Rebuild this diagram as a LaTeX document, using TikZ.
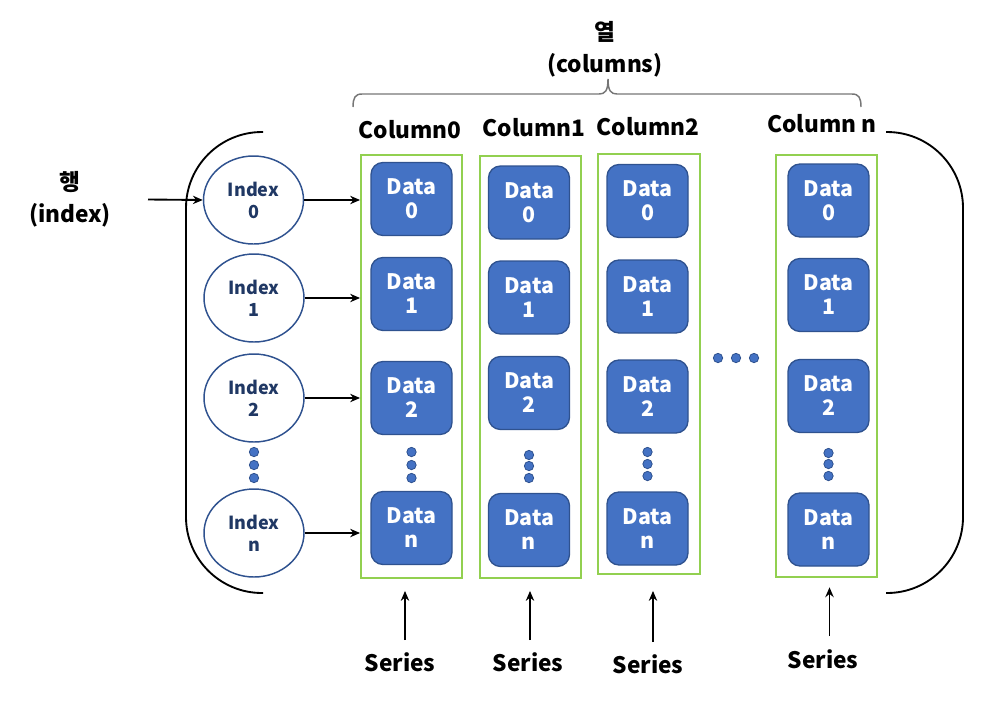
\documentclass[tikz,border=0pt]{standalone}
\usepackage{fontspec}
\setmainfont{Noto Sans CJK KR}
\usepackage{tikz}
\usetikzlibrary{arrows.meta,positioning,shapes.geometric}
\definecolor{DataBlue}{HTML}{4472C4}
\definecolor{DataEdge}{HTML}{2F528F}
\definecolor{IdxInk}{HTML}{203864}
\definecolor{ColGreen}{HTML}{92D050}
\definecolor{BraceGray}{HTML}{767676}
\tikzset{
  data/.style={draw=DataEdge,fill=DataBlue,line width=1pt,rounded corners=9pt,minimum width=60.75pt,minimum height=54.75pt,align=center,text=white,font=\fontsize{16}{18}\selectfont\bfseries},
  idx/.style={ellipse,draw=DataEdge,line width=1.1pt,minimum width=75pt,minimum height=66pt,inner sep=0pt,align=center,text=IdxInk,font=\fontsize{13.5}{16.5}\selectfont\bfseries},
  colbox/.style={draw=ColGreen,line width=1.4pt,minimum width=75.75pt},
  dot/.style={circle,draw=DataEdge,fill=DataBlue,line width=.6pt,inner sep=0pt,minimum size=7pt},
  lbl/.style={align=center,font=\fontsize{17}{24}\selectfont\bfseries},
  arr/.style={-{Stealth[length=2.6mm,width=2.2mm]},draw=black,line width=1.4pt},
  rowbr/.style={draw=black,line width=1.4pt,rounded corners=57pt},
  brc/.style={draw=BraceGray,line width=1.1pt},
}
\begin{document}
\begin{tikzpicture}[x=0.75pt,y=-0.75pt]
    \useasboundingbox (0,0) rectangle (1002,726);

    % titles
    \node[lbl] (coltitle) at (605,49) {열\\(columns)};
    \node[lbl] (rowtitle) at (70,199) {행\\(index)};
    \draw[brc] (353,107) .. controls (353,98) and (355,94) .. (362,94) -- (599,94)
      .. controls (605,94) and (608,91) .. (608,79) .. controls (608,91) and (611,94) .. (617,94)
      -- (852,94) .. controls (859,94) and (861,98) .. (861,107);

    % column headers
    \node[lbl] (h0) at (410,130) {Column0};
    \node[lbl] (h1) at (534,128) {Column1};
    \node[lbl] (h2) at (648,127) {Column2};
    \node[lbl] (hn) at (822,124) {Column n};

    % series boxes
    \node[colbox,minimum height=317.25pt] (c0) at (411.5,366.5) {};
    \node[colbox,minimum height=316.5pt] (c1) at (530.5,367) {};
    \node[colbox,minimum height=315pt,minimum width=76.5pt] (c2) at (649,364) {};
    \node[colbox,minimum height=316.5pt] (cn) at (826.5,366) {};

    % Column0
    \node[data] (d00) at (411.5,199) {Data\\0};
    \node[data] (d01) at (411.5,294) {Data\\1};
    \node[data] (d02) at (411.5,398) {Data\\2};
    \node[dot] at (411.5,452) {};
    \node[dot] at (411.5,465) {};
    \node[dot] at (411.5,478) {};
    \node[data] (d0n) at (411.5,528) {Data\\n};

    % Column1
    \node[data] (d10) at (529,202.5) {Data\\0};
    \node[data] (d11) at (529,297.5) {Data\\1};
    \node[data] (d12) at (529,393) {Data\\2};
    \node[dot] at (529,455) {};
    \node[dot] at (529,466) {};
    \node[dot] at (529,478) {};
    \node[data] (d1n) at (529,530) {Data\\n};

    % Column2
    \node[data] (d20) at (647.5,201) {Data\\0};
    \node[data] (d21) at (647.5,296.5) {Data\\1};
    \node[data] (d22) at (647.5,396.5) {Data\\2};
    \node[dot] at (647.5,452) {};
    \node[dot] at (647.5,464) {};
    \node[dot] at (647.5,476) {};
    \node[data] (d2n) at (647.5,528.5) {Data\\n};

    % Column n
    \node[data] (dn0) at (828.5,200.5) {Data\\0};
    \node[data] (dn1) at (828.5,295) {Data\\1};
    \node[data] (dn2) at (828.5,396) {Data\\2};
    \node[dot] at (828.5,453) {};
    \node[dot] at (828.5,464) {};
    \node[dot] at (828.5,476) {};
    \node[data] (dnn) at (828.5,529.5) {Data\\n};

    % columns in between
    \node[dot] at (718,358) {};
    \node[dot] at (736,358) {};
    \node[dot] at (754,358) {};

    % index
    \node[idx] (i0) at (253.5,200) {Index\\0};
    \node[idx] (i1) at (254,298) {Index\\1};
    \node[idx] (i2) at (254,398) {Index\\2};
    \node[dot] at (254,452) {};
    \node[dot] at (254,465) {};
    \node[dot] at (254,478) {};
    \node[idx] (in) at (254,533) {Index\\n};

    \coordinate (rowin) at (148,199.5);
    \draw[arr] (rowin) -- (i0.west);
    \draw[arr] (i0.east) -- (i0.east -| c0.west);
    \draw[arr] (i1.east) -- (i1.east -| c0.west);
    \draw[arr] (i2.east) -- (i2.east -| c0.west);
    \draw[arr] (in.east) -- (in.east -| c0.west);

    % row brackets
    \draw[rowbr] (263,132) -- (186,132) -- (186,593) -- (263,593);
    \draw[rowbr] (886,132) -- (963,132) -- (963,593) -- (886,593);

    % series
    \node[lbl] (s0) at (400,662) {Series};
    \node[lbl] (s1) at (528,662) {Series};
    \node[lbl] (s2) at (648,664) {Series};
    \node[lbl] (sn) at (823,659) {Series};
    \coordinate (t0) at (405,640);
    \coordinate (t1) at (530,640);
    \coordinate (t2) at (653,642);
    \coordinate (tn) at (829.5,636);
    \draw[arr] (t0) -- ([yshift=-9pt]t0 |- c0.south);
    \draw[arr] (t1) -- ([yshift=-9pt]t1 |- c1.south);
    \draw[arr] (t2) -- ([yshift=-12pt]t2 |- c2.south);
    \draw[arr] (tn) -- ([yshift=-7pt]tn |- cn.south);

  \end{tikzpicture}
\end{document}
